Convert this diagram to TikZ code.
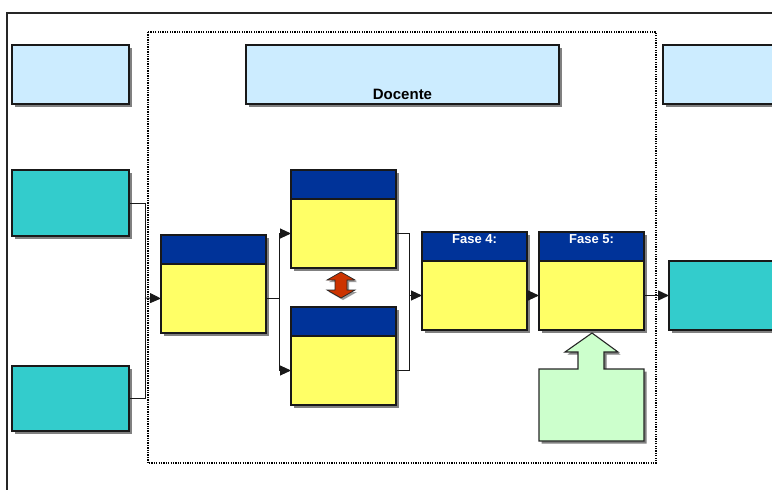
\documentclass[tikz,border=0pt]{standalone}
\usepackage{fontspec}
\setmainfont{Liberation Sans}
\usetikzlibrary{shadows,positioning,arrows.meta}
\definecolor{paleblue}{HTML}{CCECFF}
\definecolor{tealbox}{HTML}{33CCCC}
\definecolor{phaseyellow}{HTML}{FFFF66}
\definecolor{phasenavy}{HTML}{003399}
\definecolor{palegreen}{HTML}{CCFFCC}
\definecolor{swapred}{HTML}{CC3300}
\tikzset{box/.style={draw=black!90, line width=1.3pt, inner sep=0pt, outer sep=0pt,
                     drop shadow={shadow xshift=2.5pt, shadow yshift=-2.5pt, opacity=1, fill=black!50}},
        rolebox/.style={box, fill=paleblue, minimum height=59pt, anchor=north west},
        inbox/.style={box, fill=tealbox, minimum width=117pt, anchor=north west},
        phasehead/.style={box, fill=phasenavy, minimum width=105pt, minimum height=29pt, anchor=north west},
        phasebody/.style={box, fill=phaseyellow, minimum width=105pt, minimum height=69pt},
        phasetitle/.style={text=white, font=\bfseries\fontsize{13}{15}\selectfont, inner sep=0pt},
        link/.style={draw=black!90, line width=0.9pt, -{Triangle[length=11pt,width=10pt]}},
        }
\begin{document}
\begin{tikzpicture}[x=1pt, y=-1pt]
    \useasboundingbox (0,0) rectangle (772,490);
    \draw[line width=2pt, black!85] (7,500) -- (7,13) -- (790,13);
    \draw[line width=1.3pt, dash pattern=on 1.3pt off 1.1pt] (148,32) rectangle (656,463);

    \node[rolebox, minimum width=117pt] (r1) at (12,45) {};
    \node[rolebox, minimum width=313pt,
          label={[font=\bfseries\fontsize{15}{17}\selectfont, inner sep=0pt, above=4.5pt]south:Docente}] (doc) at (246,45) {};
    \node[rolebox, minimum width=130pt] (r3) at (663,45) {};

    \node[inbox, minimum height=66pt] (t1) at (12,170) {};
    \node[inbox, minimum height=65pt] (t2) at (12,366) {};
    \node[box, fill=tealbox, minimum width=130pt, minimum height=69pt, anchor=north west] (out) at (669,261) {};

    \node[phasehead] (h1) at (161,235) {};
    \node[phasebody, below=0pt of h1] (f1) {};
    \node[phasehead] (h2) at (291,170) {};
    \node[phasebody, below=0pt of h2] (f2) {};
    \node[phasehead] (h3) at (291,307) {};
    \node[phasebody, below=0pt of h3] (f3) {};
    \node[phasehead, label={[phasetitle, below=2pt]north:Fase 4:}] (h4) at (422,232) {};
    \node[phasebody, below=0pt of h4] (f4) {};
    \node[phasehead, label={[phasetitle, below=2pt]north:Fase 5:}] (h5) at (539,232) {};
    \node[phasebody, below=0pt of h5] (f5) {};

    % double arrow between the two parallel phases
    \filldraw[swapred, draw=black!85, line width=0.7pt,
              drop shadow={shadow xshift=2pt, shadow yshift=-2pt, opacity=1, fill=black!40}]
        (341,272) -- (355,280) -- (347,280) -- (347,290) -- (355,290) -- (341,298)
        -- (327,290) -- (335,290) -- (335,280) -- (327,280) -- cycle;

    % input arrow into Fase 5
    \filldraw[palegreen, draw=black!85, line width=1.1pt,
              drop shadow={shadow xshift=2.5pt, shadow yshift=-2.5pt, opacity=1, fill=black!50}]
        (539,441) -- (539,369) -- (578,369) -- (578,352) -- (565,352) -- (592,333)
        -- (618,352) -- (604,352) -- (604,369) -- (644,369) -- (644,441) -- cycle;

    \coordinate (j1) at (145,298);
    \coordinate (j2) at (409,295.5);
    \draw[link, -] (t1.east) -| (j1);
    \draw[link, -] (t2.east) -| (j1);
    \draw[link] (j1) -- (f1.west);
    \draw[link] (f1.east) -- ++(13,0) |- (f2.west);
    \draw[link] (f1.east) -- ++(13,0) |- (f3.west);
    \draw[link, -] (f2.east) -| (j2);
    \draw[link, -] (f3.east) -| (j2);
    \draw[link] (j2) -- (f4.west);
    \draw[link] (f4.east) -- (f5.west);
    \draw[link, line width=1.4pt] (f5.east) -- (out.west);
\end{tikzpicture}
\end{document}
